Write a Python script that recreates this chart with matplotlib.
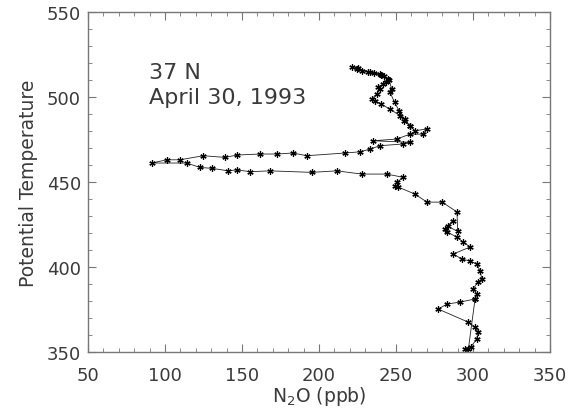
import matplotlib.pyplot as plt
from matplotlib.ticker import MultipleLocator

# N2O profile, in flight order
n2o = [301.3, 297.0, 294.8, 298.5, 302.4, 303.2, 301.3, 296.8, 277.3, 283.1,
       291.6, 301.3, 302.6, 300.0, 303.2, 305.8, 304.5, 302.6, 298.1, 292.9,
       287.0, 298.1, 293.5, 289.6, 283.1, 281.8, 287.0, 283.5, 290.0, 289.6,
       279.9, 270.1, 262.3, 251.3, 249.4, 250.4, 254.7, 243.9, 227.7, 211.5,
       195.3, 168.2, 155.2, 146.6, 141.1, 130.3, 122.7, 114.1, 91.4, 101.1,
       109.7, 124.9, 139.0, 146.6, 161.7, 172.5, 183.1, 192.0, 216.9, 226.6,
       233.1, 239.6, 254.5, 259.1, 235.1, 250.4, 259.1, 267.7, 269.9, 262.3,
       259.1, 255.0, 252.6, 246.0, 240.0, 236.4, 234.2, 237.5, 239.6, 238.0,
       241.8, 243.5, 245.0, 242.0, 239.6, 236.0, 233.1, 228.0, 224.4, 221.2,
       225.0, 232.0, 240.0, 245.5, 247.2, 246.1, 249.0, 252.0, 255.5, 259.1]
theta = [381.2, 352.0, 351.8, 353.0, 357.6, 361.8, 364.7, 367.6, 375.3, 378.2,
         379.4, 381.2, 384.1, 387.1, 391.2, 392.9, 397.6, 401.8, 403.5, 404.7,
         407.6, 411.8, 414.7, 417.6, 420.6, 422.4, 427.1, 424.0, 421.0, 432.4,
         438.2, 438.2, 442.9, 447.1, 447.8, 449.8, 452.8, 454.7, 454.7, 456.6,
         455.7, 456.6, 456.1, 457.2, 456.6, 458.1, 458.6, 461.2, 461.2, 463.1,
         463.1, 465.5, 464.5, 465.9, 466.5, 466.5, 467.1, 465.5, 467.1, 467.8,
         469.4, 471.4, 472.4, 473.4, 474.3, 475.3, 478.2, 478.2, 481.2, 480.2,
         483.1, 486.0, 489.0, 493.0, 496.0, 497.8, 498.8, 501.8, 504.7, 506.0,
         507.6, 509.0, 510.6, 512.5, 513.5, 514.0, 514.5, 515.5, 516.5, 517.5,
         517.0, 515.0, 513.0, 510.0, 504.7, 502.8, 497.0, 492.0, 487.0, 483.1]

X_TICKS = [50, 100, 150, 200, 250, 300, 350]
Y_TICKS = [350, 400, 450, 500, 550]

INK = "#3a3a3a"
FRAME = "#777777"

fig = plt.figure(figsize=(5.74, 4.10), dpi=100)
ax = fig.add_axes([0.1533, 0.139, 0.805, 0.829])

ax.plot(n2o, theta, color="#222222", lw=0.6, marker=(6, 2, 0),
        ms=4.5, mew=0.9, mec="black")

ax.set_xlim(50, 350)
ax.set_ylim(350, 550)
ax.set_xticks(X_TICKS)
ax.set_yticks(Y_TICKS)
ax.xaxis.set_minor_locator(MultipleLocator(10))
ax.yaxis.set_minor_locator(MultipleLocator(10))
ax.tick_params(which="both", direction="in", top=True, right=True,
               color=FRAME, labelsize=13, labelcolor=INK)
ax.tick_params(axis="y", pad=5)
ax.tick_params(axis="x", pad=10)
ax.tick_params(which="major", length=6)
ax.tick_params(which="minor", length=3)
for s in ax.spines.values():
    s.set_color(FRAME)
    s.set_linewidth(1.0)

ax.set_xlabel("N$_2$O (ppb)", fontsize=13.5, color=INK, labelpad=0)
ax.set_ylabel("Potential Temperature", fontsize=13.5, color=INK, labelpad=6)

ax.text(89.6, 514.7, "37 N", fontsize=16, color=INK, va="center", ha="left")
ax.text(89.6, 500.0, "April 30, 1993", fontsize=16, color=INK,
        va="center", ha="left")

fig.savefig("out.png", dpi=100)
